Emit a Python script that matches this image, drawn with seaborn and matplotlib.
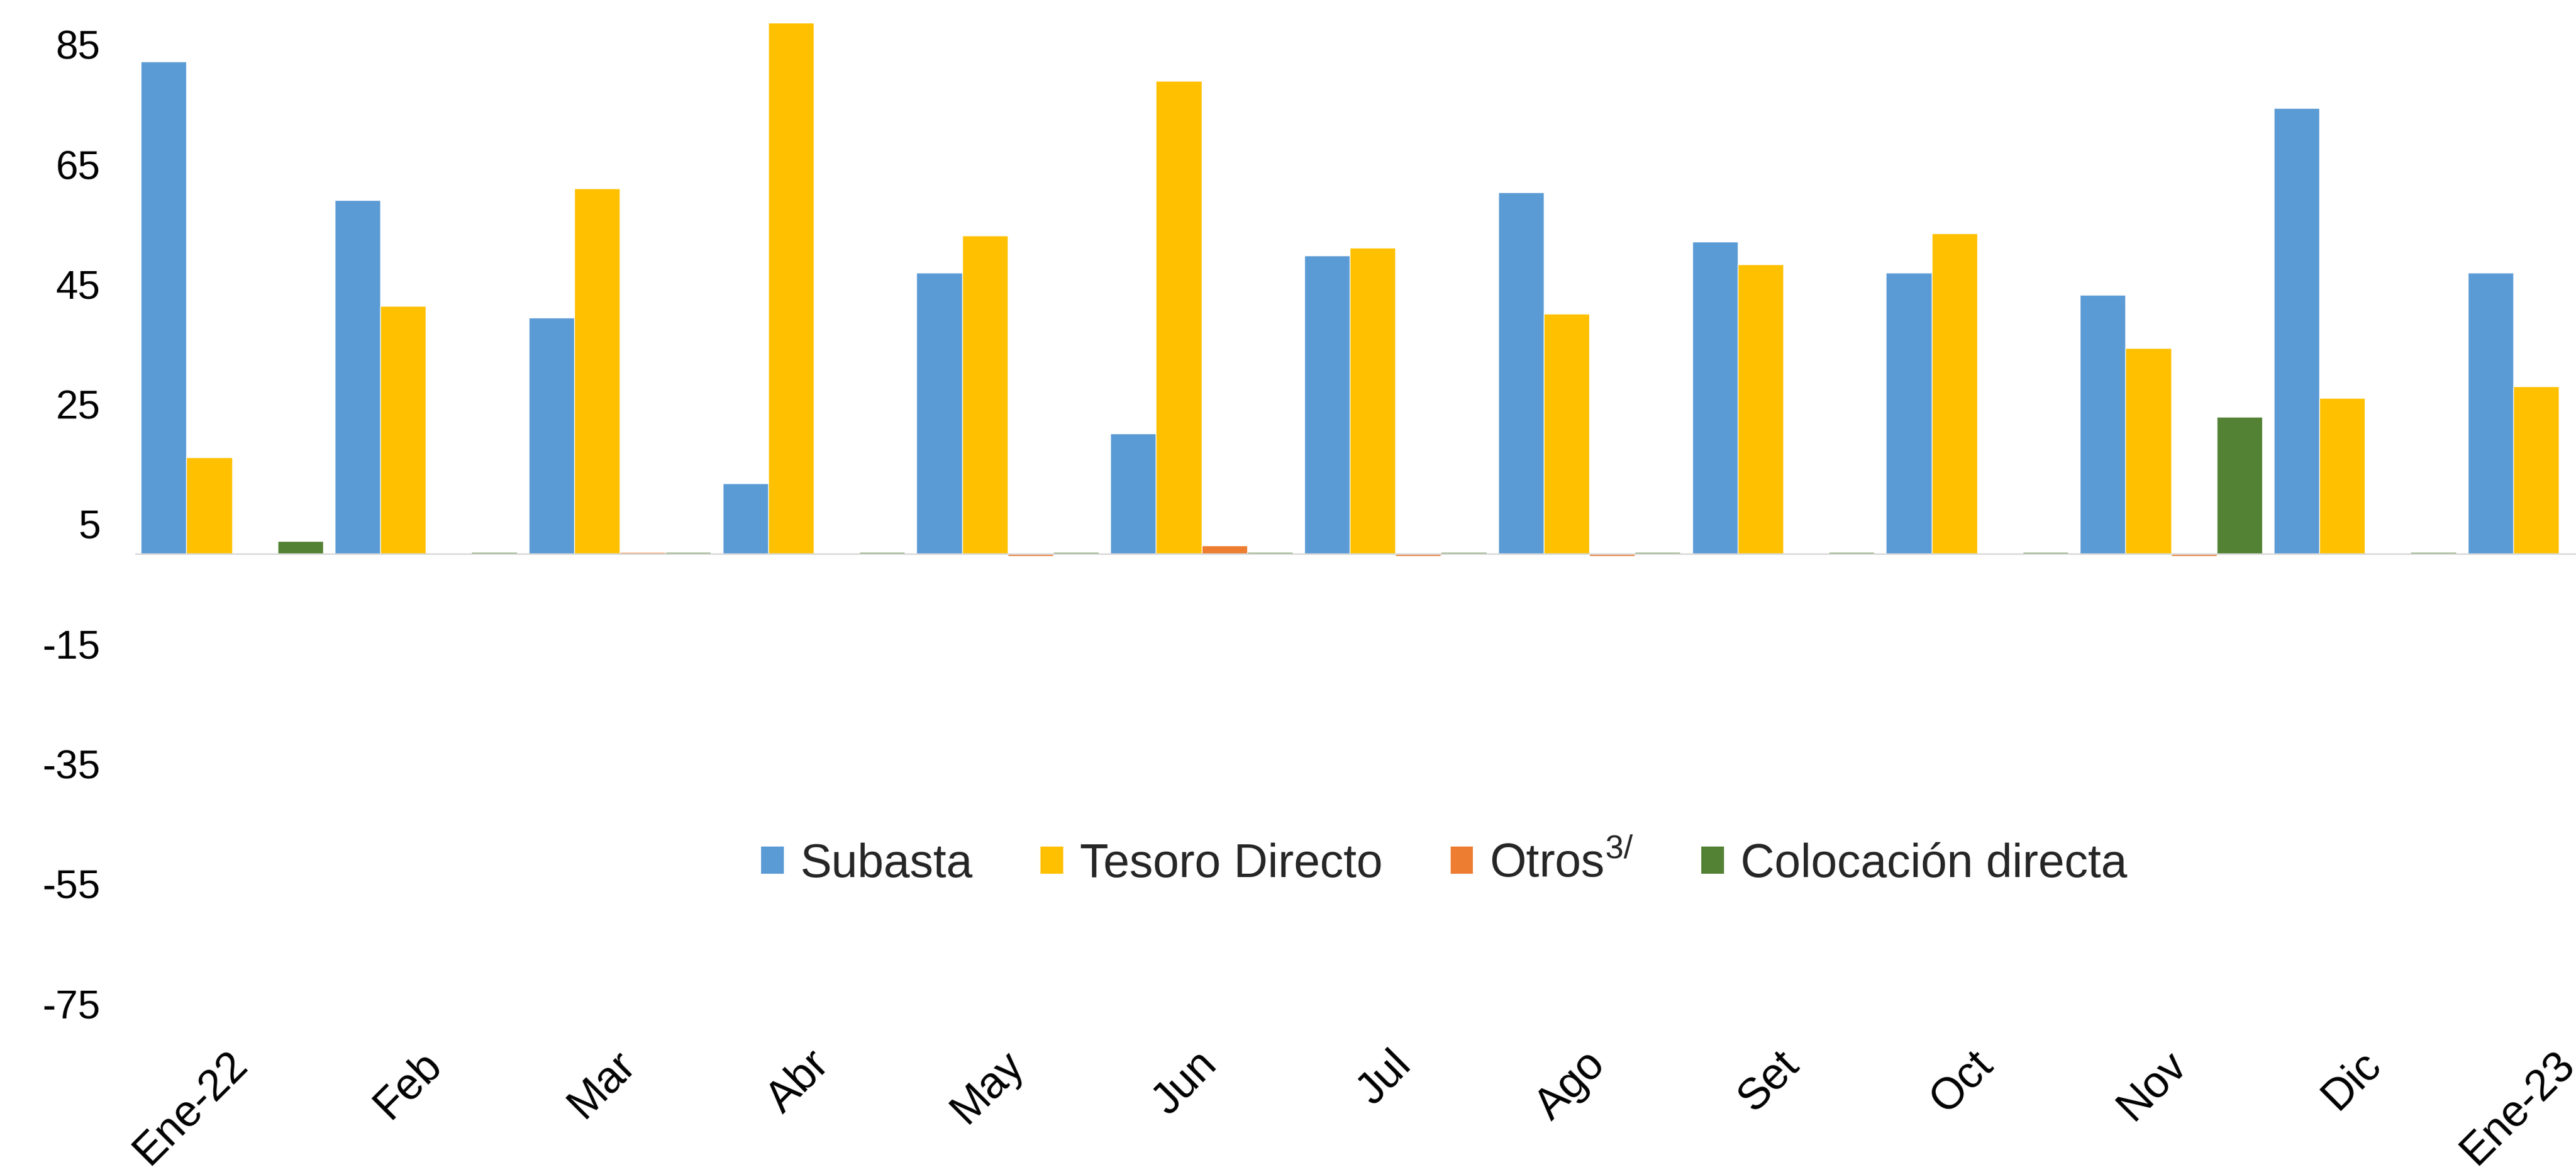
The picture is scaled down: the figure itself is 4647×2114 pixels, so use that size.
import matplotlib
matplotlib.use("Agg")
import matplotlib.pyplot as plt
import matplotlib.transforms as mtransforms
from matplotlib.patches import Patch
import seaborn as sns
import pandas as pd

meses = ["Ene-22", "Feb", "Mar", "Abr", "May", "Jun", "Jul", "Ago",
         "Set", "Oct", "Nov", "Dic", "Ene-23"]
series = ["Subasta", "Tesoro Directo", "Otros", "Colocación directa"]

subasta = [82.1, 59.0, 39.4, 11.7, 46.9, 20.1, 49.7, 60.3, 52.1, 46.9, 43.2, 74.3, 46.9]
tesoro_directo = [16.1, 41.3, 60.9, 88.6, 53.1, 78.9, 51.0, 40.0, 48.3, 53.4, 34.3, 26.0, 27.9]
otros = [0.0, 0.0, 0.25, 0.0, -0.4, 1.4, -0.4, -0.4, 0.0, 0.0, -0.4, 0.0, 0.0]
colocacion_directa = [2.1, 0.25, 0.25, 0.25, 0.25, 0.25, 0.25, 0.25, 0.25, 0.25, 22.8, 0.25, 0.0]

colores = ["#5B9BD5", "#FFC000", "#ED7D31", "#548235"]
yticks = [-75, -55, -35, -15, 5, 25, 45, 65, 85]

rows = []
for serie, vals in zip(series, [subasta, tesoro_directo, otros, colocacion_directa]):
    for m, v in zip(meses, vals):
        rows.append({"Mes": m, "Serie": serie, "Valor": v})
df = pd.DataFrame(rows)

sns.set_theme(style="white")
plt.rcParams["font.family"] = ["Liberation Sans", "DejaVu Sans"]

W, H, DPI = 4647, 2114, 100
fig = plt.figure(figsize=(W / DPI, H / DPI), dpi=DPI)
fig.patch.set_facecolor("white")

left = 243.6 / W
width = 13 * 349.8 / W
y_min, y_max = -75, 95
px_per_unit = 10.815
zero_px = 999
bottom = (H - (zero_px - y_min * px_per_unit)) / H
height = (y_max - y_min) * px_per_unit / H
ax = fig.add_axes([left, bottom, width, height])

sns.barplot(data=df, x="Mes", y="Valor", hue="Serie", order=meses,
            hue_order=series, palette=colores, saturation=1, width=0.939,
            gap=0, ax=ax, legend=False, errorbar=None)

ax.set_xlim(-0.5, 12.5)
ax.set_ylim(y_min, y_max)
ax.set_yticks(yticks)
ax.set_yticklabels([str(t) for t in yticks])
ax.set_xlabel("")
ax.set_ylabel("")
for s in ax.spines.values():
    s.set_visible(False)
ax.axhline(0, color="#D9D9D9", lw=2.0, zorder=3)

ax.tick_params(axis="y", length=0, pad=45, labelsize=52, labelcolor="black")
ax.tick_params(axis="x", length=0, pad=52, labelsize=57, labelcolor="black")
offset = mtransforms.ScaledTranslation(-10 / DPI, 0, fig.dpi_scale_trans)
for lab in ax.get_xticklabels():
    lab.set_rotation(45)
    lab.set_ha("right")
    lab.set_va("top")
    lab.set_rotation_mode("anchor")
    lab.set_transform(lab.get_transform() + offset)

handles = [Patch(facecolor=c, edgecolor="none") for c in colores]
labels = ["Subasta", "Tesoro Directo", r"Otros$^{\mathregular{3/}}$", "Colocación directa"]
leg = ax.legend(handles, labels, ncol=4, loc="center",
                bbox_to_anchor=(2605 / W, 1 - 1559 / H), bbox_transform=fig.transFigure,
                frameon=False, fontsize=61, handlelength=0.48, handleheight=0.5,
                handletextpad=0.35, columnspacing=1.45, borderpad=0)

fig.savefig("out.png", dpi=DPI, facecolor="white")
